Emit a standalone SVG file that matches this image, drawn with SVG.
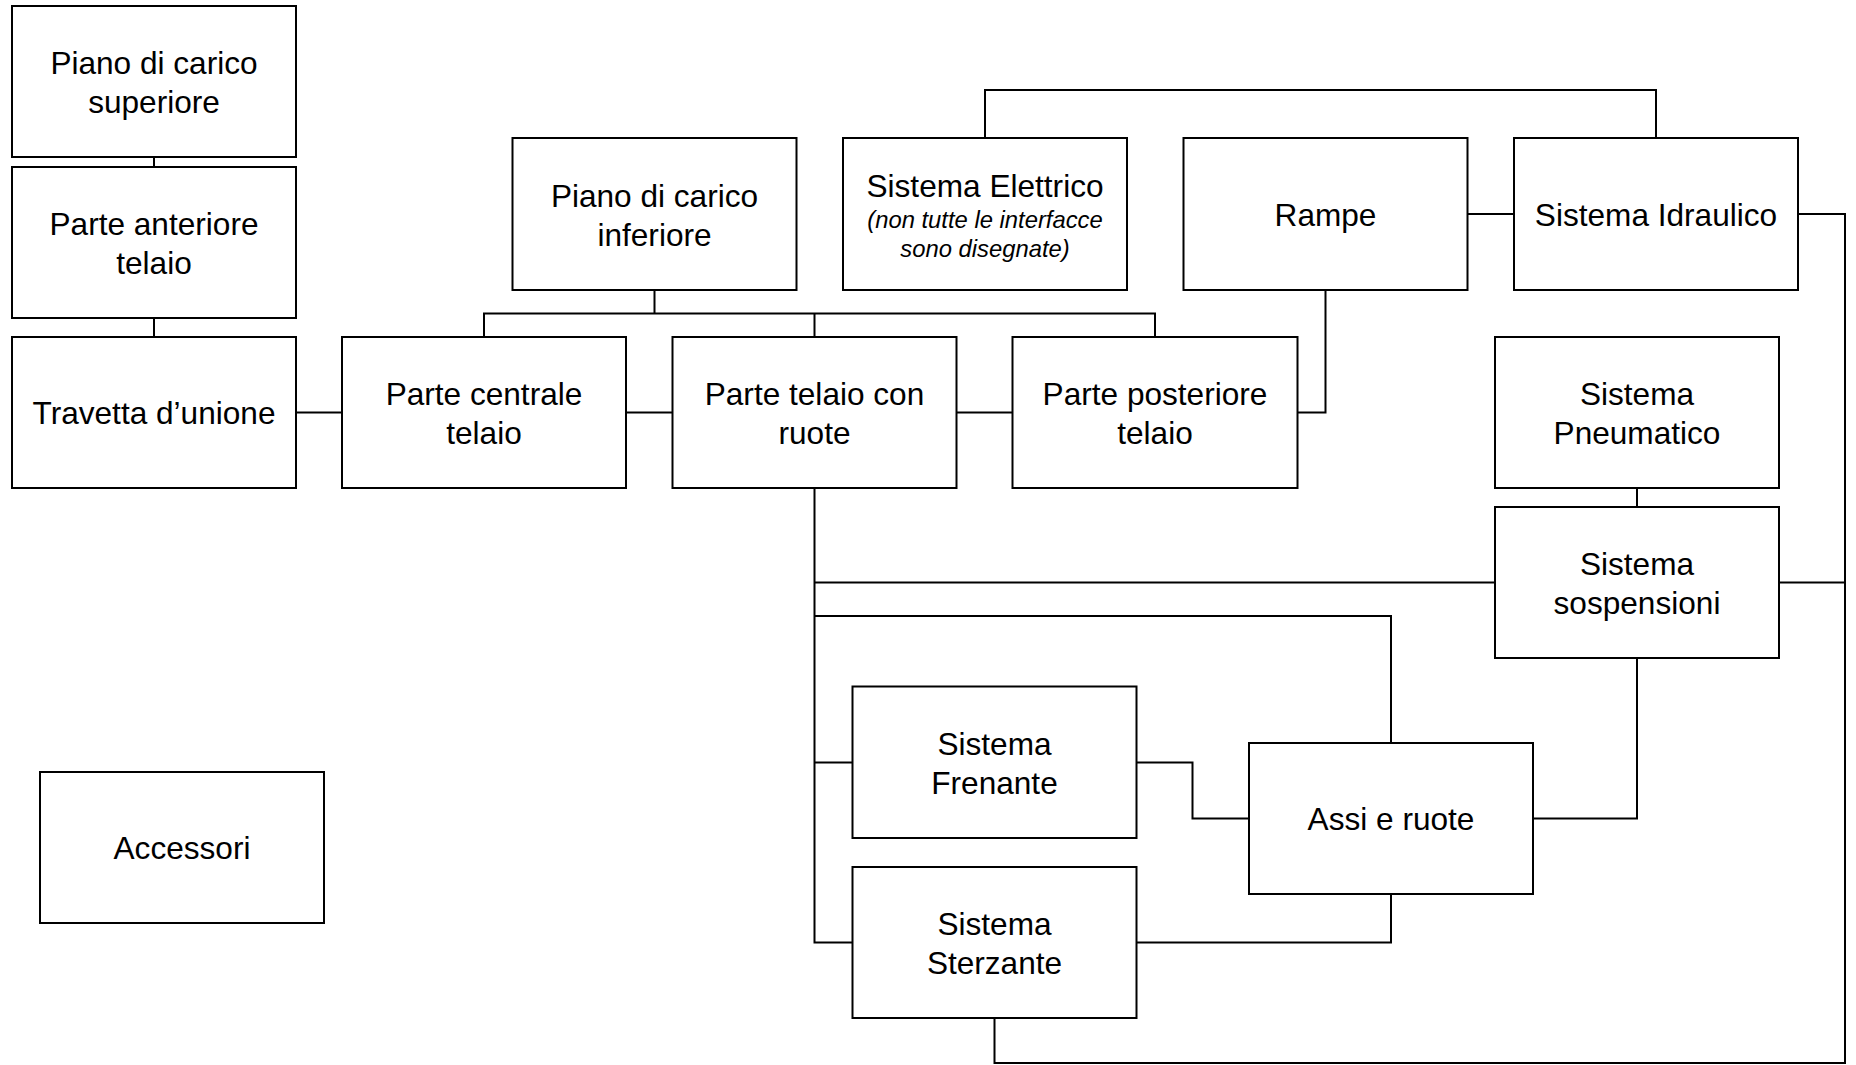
<svg xmlns="http://www.w3.org/2000/svg" width="1856" height="1065" viewBox="0 0 1856 1065">
<style>
rect.b{fill:#fff;stroke:#000;stroke-width:2}
text{font-family:"Liberation Sans",Arial,sans-serif;font-size:31.6px;fill:#000;text-anchor:middle}
text.n{font-size:23.8px;font-style:italic}
#conn path{fill:none;stroke:#000;stroke-width:2}
</style>
<rect width="1856" height="1065" fill="#fff"/>
<g id="conn">
<path d="M154 157V167"/>
<path d="M154 318V337"/>
<path d="M296 412.5H342"/>
<path d="M626 412.5H672.5"/>
<path d="M956.5 412.5H1012.5"/>
<path d="M654.5 290V313.5"/>
<path d="M484 337V313.5H1155V337"/>
<path d="M814.5 313.5V337"/>
<path d="M985 138V90H1656V138"/>
<path d="M1467.5 214H1514"/>
<path d="M1325.5 290V412.5H1297.5"/>
<path d="M1798 214H1845V1063H994.5V1018"/>
<path d="M1779 582.5H1845"/>
<path d="M1637 488V507"/>
<path d="M814.5 488V942.5H852.5"/>
<path d="M814.5 582.5H1495"/>
<path d="M814.5 616H1391V743"/>
<path d="M814.5 762.5H852.5"/>
<path d="M1136.5 762.5H1192.5V818.5H1249"/>
<path d="M1533 818.5H1637V658"/>
<path d="M1136.5 942.5H1391V894"/>
</g>
<g id="sup"><rect class="b" x="12" y="6" width="284" height="151"/><text x="154" y="74">Piano di carico</text><text x="154" y="113">superiore</text></g>
<g id="ant"><rect class="b" x="12" y="167" width="284" height="151"/><text x="154" y="235">Parte anteriore</text><text x="154" y="274">telaio</text></g>
<g id="trav"><rect class="b" x="12" y="337" width="284" height="151"/><text x="154" y="424">Travetta d’unione</text></g>
<g id="centrale"><rect class="b" x="342" y="337" width="284" height="151"/><text x="484" y="405">Parte centrale</text><text x="484" y="444">telaio</text></g>
<g id="ruote"><rect class="b" x="672.5" y="337" width="284" height="151"/><text x="814.5" y="405">Parte telaio con</text><text x="814.5" y="444">ruote</text></g>
<g id="posteriore"><rect class="b" x="1012.5" y="337" width="285" height="151"/><text x="1155" y="405">Parte posteriore</text><text x="1155" y="444">telaio</text></g>
<g id="inferiore"><rect class="b" x="512.5" y="138" width="284" height="152"/><text x="654.5" y="206.5">Piano di carico</text><text x="654.5" y="245.5">inferiore</text></g>
<g id="elettrico"><rect class="b" x="843" y="138" width="284" height="152"/><text x="985" y="197">Sistema Elettrico</text><text class="n" x="985" y="227.5">(non tutte le interfacce</text><text class="n" x="985" y="256.5">sono disegnate)</text></g>
<g id="rampe"><rect class="b" x="1183.5" y="138" width="284" height="152"/><text x="1325.5" y="225.5">Rampe</text></g>
<g id="idraulico"><rect class="b" x="1514" y="138" width="284" height="152"/><text x="1656" y="225.5">Sistema Idraulico</text></g>
<g id="pneumatico"><rect class="b" x="1495" y="337" width="284" height="151"/><text x="1637" y="405">Sistema</text><text x="1637" y="444">Pneumatico</text></g>
<g id="sospensioni"><rect class="b" x="1495" y="507" width="284" height="151"/><text x="1637" y="575">Sistema</text><text x="1637" y="614">sospensioni</text></g>
<g id="frenante"><rect class="b" x="852.5" y="686.5" width="284" height="151.5"/><text x="994.5" y="755">Sistema</text><text x="994.5" y="794">Frenante</text></g>
<g id="assi"><rect class="b" x="1249" y="743" width="284" height="151"/><text x="1391" y="830">Assi e ruote</text></g>
<g id="sterzante"><rect class="b" x="852.5" y="867" width="284" height="151"/><text x="994.5" y="935">Sistema</text><text x="994.5" y="974">Sterzante</text></g>
<g id="accessori"><rect class="b" x="40" y="772" width="284" height="151"/><text x="182" y="859">Accessori</text></g>
</svg>
